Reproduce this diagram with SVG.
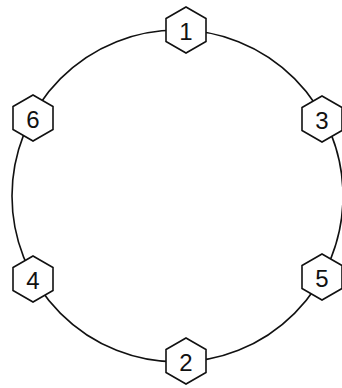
<svg xmlns="http://www.w3.org/2000/svg" xmlns:xlink="http://www.w3.org/1999/xlink" width="342" height="388" viewBox="0 0 342 388">
<style>
.hex{fill:#fff;stroke:#111;stroke-width:1.6;stroke-linejoin:miter}
.lbl{font-family:"Liberation Sans",Arial,sans-serif;font-size:24px;fill:#111;text-anchor:middle;dominant-baseline:central}
.ring{fill:none;stroke:#111;stroke-width:1.6}
</style>
<defs>
<polygon id="hx" points="0,-23 20,-11.5 20,11.5 0,23 -20,11.5 -20,-11.5"/>
</defs>
<rect width="342" height="388" fill="#fff"/>
<g id="connectors">
<ellipse class="ring" cx="177.5" cy="196" rx="165.5" ry="166"/>
</g>
<g id="n1" transform="translate(186,30)"><use xlink:href="#hx" class="hex"/><text class="lbl" x="0" y="1">1</text></g>
<g id="n6" transform="translate(33,118)"><use xlink:href="#hx" class="hex"/><text class="lbl" x="0" y="1">6</text></g>
<g id="n3" transform="translate(322,119)"><use xlink:href="#hx" class="hex"/><text class="lbl" x="0" y="1">3</text></g>
<g id="n4" transform="translate(33,279)"><use xlink:href="#hx" class="hex"/><text class="lbl" x="0" y="1">4</text></g>
<g id="n5" transform="translate(322,277)"><use xlink:href="#hx" class="hex"/><text class="lbl" x="0" y="1">5</text></g>
<g id="n2" transform="translate(186,361)"><use xlink:href="#hx" class="hex"/><text class="lbl" x="0" y="1">2</text></g>
</svg>
